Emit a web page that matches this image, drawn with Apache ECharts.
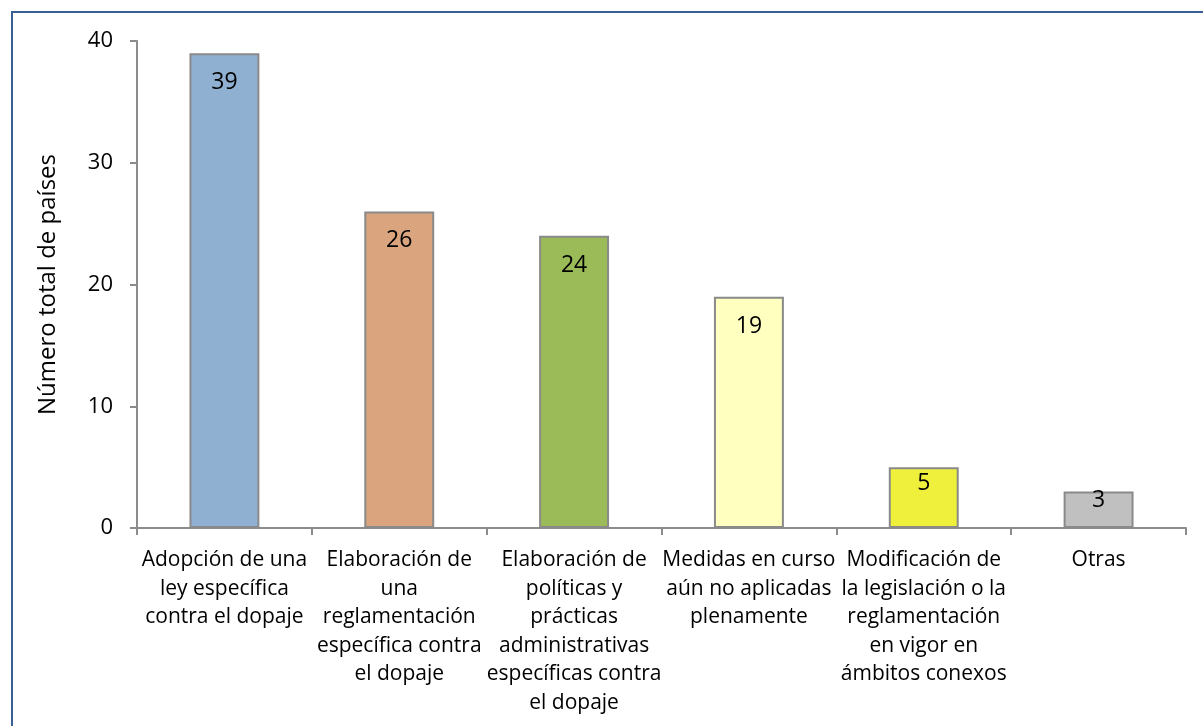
<!DOCTYPE html>
<html>
<head>
<meta charset="utf-8">
<script src="https://cdn.jsdelivr.net/npm/echarts@6/dist/echarts.min.js"></script>
<style>
  html, body { margin: 0; padding: 0; background: #fff; }
  .frame {
    position: absolute;
    left: 11px;
    top: 11px;
    width: 1300px;
    height: 800px;
    border: 2px solid #3a5f93;
  }
  #chart { position: absolute; left: 0; top: 0; width: 1203px; height: 726px; }
</style>
</head>
<body>
<div class="frame"></div>
<div id="chart"></div>
<script>
// datos
const categories = [
  'Adopción de una\nley específica\ncontra el dopaje',
  'Elaboración de\nuna\nreglamentación\nespecífica contra\nel dopaje',
  'Elaboración de\npolíticas y\nprácticas\nadministrativas\nespecíficas contra\nel dopaje',
  'Medidas en curso\naún no aplicadas\nplenamente',
  'Modificación de\nla legislación o la\nreglamentación\nen vigor en\námbitos conexos',
  'Otras'
]
const values = [39, 26, 24, 19, 5, 3]
const barColors = ['#8fb0d1', '#d9a47e', '#9bbb59', '#ffffc0', '#eff03c', '#c0c0c0']
const yTicks = [0, 10, 20, 30, 40]

// en barras bajas la etiqueta sube (como en Excel)
const labelDistance = (i) => (i === 4 ? 5 : i === 5 ? -3 : 18)

const chart = echarts.init(document.getElementById('chart'))

const option = {
  animation: false,
  textStyle: { fontFamily: '"Open Sans", sans-serif' },
  grid: { left: 137, top: 41, right: 17, bottom: 198 },
  xAxis: {
    type: 'category',
    data: categories,
    axisLine: { lineStyle: { color: '#8c8c8c', width: 2 } },
    axisTick: { show: true, length: 7, lineStyle: { color: '#8c8c8c', width: 2 } },
    axisLabel: {
      interval: 0,
      color: '#000',
      fontSize: 21,
      lineHeight: 28.5,
      margin: 18,
      align: 'center'
    }
  },
  yAxis: {
    type: 'value',
    min: yTicks[0],
    max: yTicks[yTicks.length - 1],
    interval: 10,
    name: 'Número total de países',
    nameLocation: 'middle',
    nameGap: 77,
    nameRotate: 90,
    nameTextStyle: { color: '#000', fontSize: 24 },
    axisLine: { show: true, lineStyle: { color: '#8c8c8c', width: 2 } },
    axisTick: { show: true, length: 7, lineStyle: { color: '#8c8c8c', width: 2 } },
    axisLabel: { color: '#000', fontSize: 22, margin: 24 },
    splitLine: { show: false }
  },
  series: [
    {
      type: 'bar',
      barWidth: '40%',
      data: values.map((v, i) => ({
        value: v,
        itemStyle: { color: barColors[i], borderColor: '#8a8a8a', borderWidth: 2 },
        label: { distance: labelDistance(i) }
      })),
      label: {
        show: true,
        position: 'insideTop',
        color: '#000',
        fontSize: 23
      }
    }
  ]
}

chart.setOption(option)
</script>
</body>
</html>
